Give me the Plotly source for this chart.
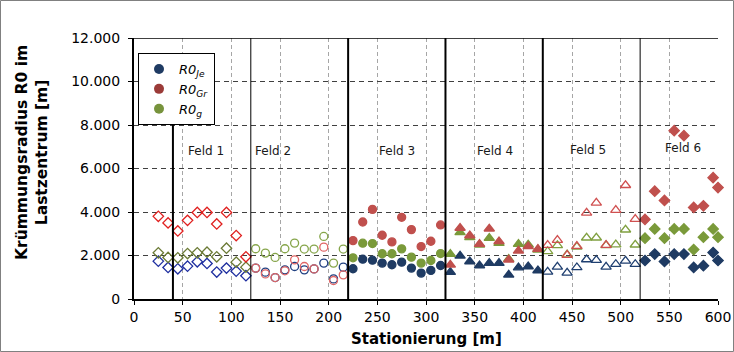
import plotly.graph_objects as go

# ---------------- data ----------------
feld1_x = [25, 35, 45, 55, 65, 75, 85, 95, 105, 115]
feld1_je = [1740, 1450, 1390, 1510, 1710, 1635, 1240, 1420, 1280, 1070]
feld1_gr = [3800, 3500, 3130, 3615, 3980, 3980, 3450, 3980, 2915, 1940]
feld1_g = [2125, 1910, 1895, 2090, 2125, 2150, 1940, 2335, 1695, 1465]

feld2_x = [125, 135, 145, 155, 165, 175, 185, 195, 205, 215]
feld2_je = [1420, 1235, 985, 1340, 1495, 1340, 1385, 1650, 925, 1465]
feld2_gr = [1420, 1155, 985, 1295, 1800, 1495, 1385, 2385, 850, 1110]
feld2_g = [2310, 2110, 1910, 2310, 2570, 2295, 2295, 2875, 1650, 2295]

feld3_x = [225, 235, 245, 255, 265, 275, 285, 295, 305, 315]
feld3_je = [1390, 1830, 1785, 1650, 1575, 1695, 1420, 1190, 1315, 1540]
feld3_gr = [2685, 3540, 4120, 2930, 2625, 3755, 3190, 2410, 2655, 3405]
feld3_g = [1895, 2565, 2550, 2080, 2080, 2305, 1925, 1650, 1770, 2090]

feld4_x = [325, 335, 345, 355, 365, 375, 385, 395, 405, 415]
feld4_je = [1235, 1985, 1725, 1540, 1650, 1650, 1110, 1445, 1495, 1310]
feld4_gr = [1570, 3265, 2920, 2525, 3230, 2645, 1800, 2215, 2415, 2295]
feld4_g = [2065, 3060, 2830, 2495, 2800, 2570, 1835, 2525, 2495, 2265]

feld5_x = [425, 435, 445, 455, 465, 475, 485, 495, 505, 515]
feld5_je = [1245, 1475, 1200, 1450, 1815, 1785, 1475, 1600, 1750, 1600]
feld5_gr = [2475, 2705, 2015, 2430, 3960, 4420, 2475, 4085, 5230, 3670]
feld5_g = [2190, 2465, 2040, 2400, 2815, 2815, 2470, 2500, 3185, 2495]

feld6_x = [525, 535, 545, 555, 565, 575, 585, 595, 600]
feld6_je = [1770, 2065, 1725, 2065, 2065, 1450, 1530, 2135, 1770]
feld6_gr = [3660, 4955, 4530, 7740, 7510, 4210, 4285, 5580, 5125]
feld6_g = [2795, 3220, 2795, 3220, 3220, 2275, 2840, 3220, 2840]

feld_boundaries = [40, 120, 220, 320, 420, 520]
feld_labels = ["Feld 1", "Feld 2", "Feld 3", "Feld 4", "Feld 5", "Feld 6"]
feld_label_x = [74, 143, 270, 371, 466, 564]
feld_label_y = [6820, 6820, 6820, 6820, 6850, 6930]

series_names = ["<i>R0<sub>Je</sub></i>", "<i>R0<sub>Gr</sub></i>", "<i>R0<sub>g</sub></i>"]

y_ticks = [0, 2000, 4000, 6000, 8000, 10000, 12000]
x_ticks = list(range(0, 601, 50))

# ---------------- styles ----------------
NAVY = "#1F3B63"
RED = "#C0504D"
GREEN = "#7A9A3A"
legend_colors = ["#1F3B63", "#9B3B38", "#77933C"]

fields = [
    (feld1_x, feld1_je, feld1_gr, feld1_g, "diamond-open", 8, ["#1F2FA0", "#E0201F", "#6B7A35"]),
    (feld2_x, feld2_je, feld2_gr, feld2_g, "circle-open", 8, ["#1F3F80", "#E06666", "#86A54A"]),
    (feld3_x, feld3_je, feld3_gr, feld3_g, "circle", 8, [NAVY, RED, GREEN]),
    (feld4_x, feld4_je, feld4_gr, feld4_g, "triangle-up", 9, [NAVY, RED, GREEN]),
    (feld5_x, feld5_je, feld5_gr, feld5_g, "triangle-up-open", 9, ["#1F3F70", "#D05050", "#80A040"]),
    (feld6_x, feld6_je, feld6_gr, feld6_g, "diamond", 8, [NAVY, RED, GREEN]),
]

fig = go.Figure()

for xs, je, gr, g, sym, size, cols in fields:
    for ys, col in ((je, cols[0]), (g, cols[2]), (gr, cols[1])):
        fig.add_trace(go.Scatter(
            x=xs, y=ys, mode="markers", showlegend=False, cliponaxis=False,
            marker=dict(symbol=sym, size=size, color=col,
                        line=dict(width=1.3, color=col)),
            hoverinfo="x+y",
        ))

for name, col in zip(series_names, legend_colors):
    fig.add_trace(go.Scatter(
        x=[None], y=[None], mode="markers", name=name,
        marker=dict(symbol="circle", size=10, color=col),
    ))

shapes = []
widths = {40: 2, 120: 1, 220: 2, 320: 2, 420: 2, 520: 1}
for b in feld_boundaries:
    shapes.append(dict(type="line", xref="x", yref="y", x0=b, x1=b,
                       y0=0, y1=(8350 if b == 40 else 12000),
                       line=dict(color="black", width=widths[b]), layer="above"))
shapes.append(dict(type="line", xref="paper", yref="y", x0=0, x1=1, y0=12000, y1=12000,
                   line=dict(color="black", width=1.5)))
PL, PR, PT, PB = 134, 16, 38, 53
W, H = 734, 352
pw, ph = W - PL - PR, H - PT - PB
shapes.append(dict(type="rect", xref="paper", yref="paper",
                   x0=(0.5 - PL) / pw, x1=(W - 0.5 - PL) / pw,
                   y0=(H - PB - (H - 0.5)) / ph, y1=(H - PB - 0.5) / ph,
                   line=dict(color="#808080", width=1)))

annotations = []
for lab, lx, ly in zip(feld_labels, feld_label_x, feld_label_y):
    annotations.append(dict(x=lx, y=ly, xref="x", yref="y", text=lab, showarrow=False,
                            font=dict(family="DejaVu Sans", size=12, color="#1a1a1a"),
                            xanchor="center", yanchor="middle"))
annotations.append(dict(x=(32 - PL) / pw, y=(H - PB - 153) / ph, xref="paper", yref="paper",
                        text="<b>Krümmungsradius R0 im<br>Lastzentrum [m]</b>", textangle=-90,
                        showarrow=False, xanchor="center", yanchor="middle",
                        font=dict(family="DejaVu Sans", size=15.5, color="black")))
annotations.append(dict(x=300, y=(H - PB - 339) / ph, xref="x", yref="paper",
                        text="<b>Stationierung [m]</b>", showarrow=False,
                        xanchor="center", yanchor="middle",
                        font=dict(family="DejaVu Sans", size=15, color="black")))

fig.update_layout(
    width=W, height=H, autosize=False,
    margin=dict(l=PL, r=PR, t=PT, b=PB, autoexpand=False),
    paper_bgcolor="white", plot_bgcolor="white",
    separators=",.",
    font=dict(family="DejaVu Sans", size=13.5, color="black"),
    shapes=shapes, annotations=annotations,
    legend=dict(x=(138 - PL) / pw, y=(H - PB - 53) / ph, xanchor="left", yanchor="top",
                bgcolor="white", bordercolor="black", borderwidth=1,
                font=dict(family="DejaVu Sans", size=13, color="black"),
                tracegroupgap=0, itemwidth=30),
    showlegend=True,
)

fig.update_xaxes(
    range=[0, 600], tickvals=x_ticks, ticktext=[str(v) for v in x_ticks],
    showline=True, linecolor="black", linewidth=2, automargin=False,
    ticks="outside", ticklen=4, tickcolor="black", tickwidth=1,
    showgrid=True, gridcolor="#A6A6A6", gridwidth=1, griddash="4px,3px",
    zeroline=False, tickfont=dict(size=14),
)
fig.update_yaxes(
    range=[0, 12000], tickvals=y_ticks, tickformat=",d",
    showline=True, linecolor="black", linewidth=2, automargin=False,
    ticks="outside", ticklen=4, tickcolor="black", tickwidth=1, ticklabelstandoff=5,
    showgrid=True, gridcolor="#404040", gridwidth=1.2, griddash="5px,4px",
    zeroline=False, tickfont=dict(size=14),
)

fig.write_html("out.html", config={"displayModeBar": False},
               post_script="document.body.style.margin='0';document.body.style.overflow='hidden';")
